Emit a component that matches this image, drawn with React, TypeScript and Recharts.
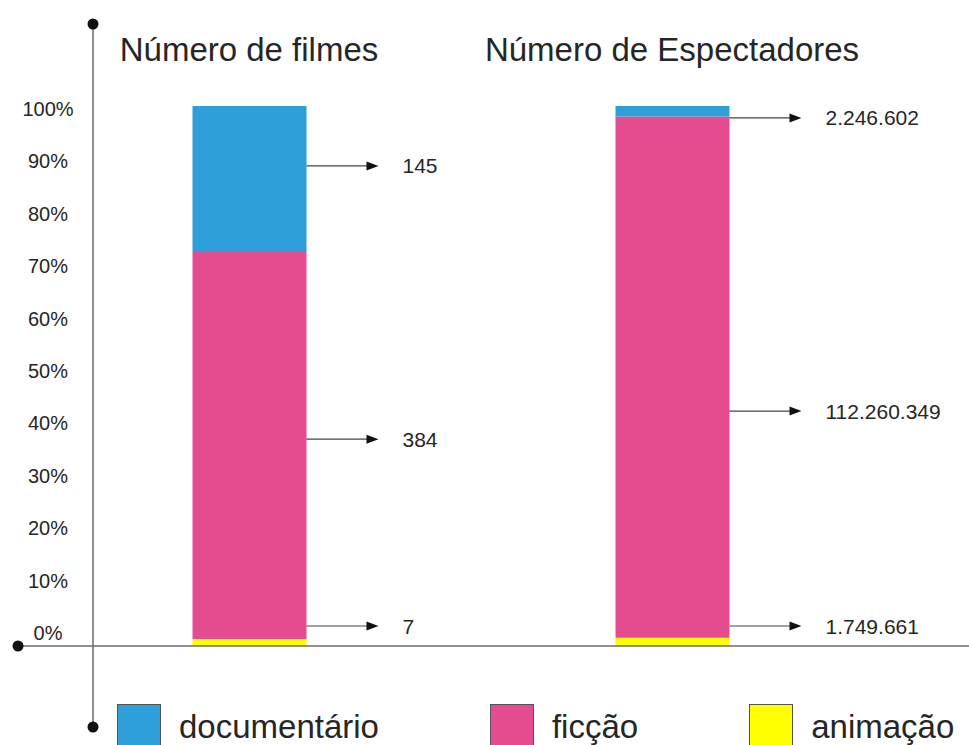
import React from 'react';
import { BarChart, Bar, XAxis, YAxis, Legend, LabelList, ReferenceLine } from 'recharts';

// Categories (bar titles) and the three series, bottom to top of each stack
const categories = ['Número de filmes', 'Número de Espectadores'];
const animacao = [7, 1749661];
const ficcao = [384, 112260349];
const documentario = [145, 2246602];
const shareTicks = [0, 0.1, 0.2, 0.3, 0.4, 0.5, 0.6, 0.7, 0.8, 0.9, 1];

const series = [
  { key: 'animacao', name: 'animação', color: '#ffff00', values: animacao },
  { key: 'ficcao', name: 'ficção', color: '#e44c8f', values: ficcao },
  { key: 'documentario', name: 'documentário', color: '#2e9fd9', values: documentario },
];

// Legend reads top of the stack first
const legendOrder = ['documentario', 'ficcao', 'animacao'];

const data = categories.map((categoria, i) => ({
  categoria,
  animacao: animacao[i],
  ficcao: ficcao[i],
  documentario: documentario[i],
}));

const totals = categories.map((_, i) => series.reduce((s, se) => s + se.values[i], 0));

// Share of the bar (0..1) where each callout arrow points, one per bar
const calloutLevel: Record<string, number[]> = {
  documentario: [0.889, 0.978],
  ficcao: [0.383, 0.435],
  animacao: [0.037, 0.037],
};

const FONT = '"Liberation Sans", Arial, Helvetica, sans-serif';
const TEXT = '#262626';

const formatThousands = (n: number) => String(n).replace(/\B(?=(\d{3})+(?!\d))/g, '.');

const makeCallout = (seriesIdx: number) => (props: any) => {
  const s = series[seriesIdx];
  const x = Number(props.x);
  const y = Number(props.y);
  const width = Number(props.width);
  const height = Number(props.height);
  const i = typeof props.index === 'number' ? props.index : s.values.indexOf(Number(props.value));
  if (i < 0 || !height) return null;
  const total = totals[i];
  const frac = s.values[i] / total;
  const below = series.slice(0, seriesIdx).reduce((acc, se) => acc + se.values[i] / total, 0);
  const fullH = height / frac;
  const ly = y + height - (calloutLevel[s.key][i] - below) * fullH;
  const start = x + width;
  const tip = start + 72;
  return (
    <g>
      <line x1={start} y1={ly} x2={tip - 8} y2={ly} stroke="#444" strokeWidth={1.2} />
      <path d={`M${tip},${ly} L${tip - 12},${ly - 4.5} L${tip - 12},${ly + 4.5} Z`} fill="#111" />
      <text x={tip + 24} y={ly} dominantBaseline="central" fontSize={21} fill={TEXT} fontFamily={FONT}>
        {formatThousands(s.values[i])}
      </text>
    </g>
  );
};

const ShareTick = (props: any) => {
  const { x, y, payload } = props;
  const v = Number(payload.value);
  return (
    <text x={x - 45} y={y - 13 + 16 * v} textAnchor="middle" dominantBaseline="central" fontSize={20} fill={TEXT} fontFamily={FONT}>
      {`${Math.round(v * 100)}%`}
    </text>
  );
};

const TitleTick = (props: any) => {
  const { x, y, payload } = props;
  return (
    <text x={x} y={y - 45} textAnchor="middle" fontSize={33} fill={TEXT} fontFamily={FONT}>
      {payload.value}
    </text>
  );
};

const AxisSpine = (props: any) => {
  const vb = props.viewBox;
  if (!vb) return null;
  const x = vb.x + vb.width;
  const top = vb.y - 82;
  const bottom = vb.y + vb.height + 81;
  return (
    <g>
      <line x1={x} y1={top} x2={x} y2={bottom} stroke="#6b6b6b" strokeWidth={1.5} />
      <circle cx={x} cy={top} r={5.5} fill="#111" />
      <circle cx={x} cy={bottom} r={5.5} fill="#111" />
    </g>
  );
};

const BaseLine = (props: any) => {
  const { x1, x2, y1 } = props;
  const left = Number(x1) - 75;
  return (
    <g>
      <line x1={left} y1={y1} x2={x2} y2={y1} stroke="#6b6b6b" strokeWidth={1.5} />
      <circle cx={left} cy={y1} r={5.5} fill="#111" />
    </g>
  );
};

const LegendRow = (props: any) => {
  const payload: any[] = props.payload || [];
  const items = legendOrder
    .map((key) => payload.find((p) => p.dataKey === key))
    .filter(Boolean);
  return (
    <div style={{ display: 'flex', paddingLeft: 117, height: 41, fontFamily: FONT }}>
      {items.map((item: any) => (
        <div key={item.value} style={{ display: 'flex', alignItems: 'flex-start', marginRight: 111 }}>
          <div
            style={{
              width: 44,
              height: 44,
              boxSizing: 'border-box',
              border: '1px solid #555',
              background: item.color,
              marginRight: 18,
            }}
          />
          <span style={{ fontSize: 33, lineHeight: '46px', color: TEXT, whiteSpace: 'nowrap' }}>{item.value}</span>
        </div>
      ))}
    </div>
  );
};

export default function App() {
  return (
    <div style={{ position: 'absolute', left: 0, top: 0, background: '#fff', fontFamily: FONT }}>
      <BarChart
        width={969}
        height={745}
        data={data}
        stackOffset="expand"
        margin={{ top: 46, right: 0, bottom: 58, left: 0 }}
      >
        <XAxis dataKey="categoria" hide padding={{ left: -55.5, right: 85.5 }} />
        <XAxis
          xAxisId="top"
          dataKey="categoria"
          orientation="top"
          height={60}
          axisLine={false}
          tickLine={false}
          tickSize={0}
          tickMargin={0}
          padding={{ left: -55.5, right: 85.5 }}
          tick={<TitleTick />}
          interval={0}
        />
        <YAxis
          width={93}
          domain={[0, 1]}
          ticks={shareTicks}
          axisLine={false}
          tickLine={false}
          tickSize={0}
          tickMargin={0}
          tick={<ShareTick />}
          interval={0}
          label={{ content: <AxisSpine /> } as any}
        />
        <ReferenceLine y={0} ifOverflow="visible" shape={<BaseLine />} />
        {series.map((s, idx) => (
          <Bar
            key={s.key}
            dataKey={s.key}
            name={s.name}
            stackId="total"
            fill={s.color}
            barSize={114}
            isAnimationActive={false}
          >
            <LabelList dataKey={s.key} content={makeCallout(idx)} />
          </Bar>
        ))}
        <Legend
          verticalAlign="bottom"
          align="left"
          wrapperStyle={{ position: 'absolute', left: 0, top: 704, width: 969, height: 41 }}
          content={<LegendRow />}
        />
      </BarChart>
    </div>
  );
}
